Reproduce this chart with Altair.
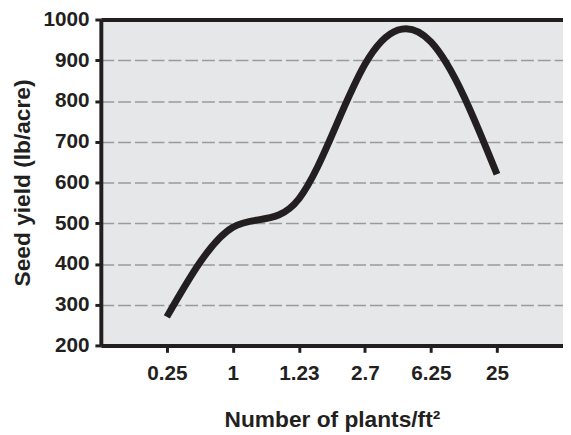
import altair as alt
import pandas as pd

x_labels = ["0.25", "1", "1.23", "2.7", "6.25", "25"]
yields = [270, 490, 560, 890, 945, 620]
y_ticks = [200, 300, 400, 500, 600, 700, 800, 900, 1000]

df = pd.DataFrame({"plants": x_labels, "yield": yields})

FONT = "Liberation Sans"

x_scale = alt.Scale(domain=x_labels, padding=1)
y_scale = alt.Scale(domain=[200, 1000], nice=False, zero=False)

line = alt.Chart(df).mark_line(
    color="#231f20", strokeWidth=7, interpolate="natural", strokeCap="butt"
).encode(
    x=alt.X("plants:O", scale=x_scale, sort=x_labels,
            axis=alt.Axis(title="Number of plants/ft²", labelAngle=0,
                          domainColor="#231f20", domainWidth=4,
                          tickColor="#231f20", tickWidth=3, tickSize=7,
                          labelPadding=11, titlePadding=25,
                          labelFontSize=21, titleFontSize=23,
                          labelFont=FONT, titleFont=FONT,
                          labelFontWeight="bold", titleFontWeight="bold",
                          labelColor="#231f20", titleColor="#231f20",
                          grid=False)),
    y=alt.Y("yield:Q", scale=y_scale,
            axis=alt.Axis(title="Seed yield (lb/acre)", values=y_ticks, format="d",
                          domainColor="#231f20", domainWidth=4,
                          tickColor="#231f20", tickWidth=3, tickSize=6,
                          labelPadding=6, titlePadding=8,
                          labelFontSize=21, titleFontSize=23,
                          labelFont=FONT, titleFont=FONT,
                          labelFontWeight="bold", titleFontWeight="bold",
                          labelColor="#231f20", titleColor="#231f20",
                          grid=True, gridColor="#9a9a9a", gridWidth=1.6,
                          gridDash=[13, 4])),
)

top = alt.Chart(df).mark_point(opacity=0).encode(
    x=alt.X("plants:O", scale=x_scale, sort=x_labels,
            axis=alt.Axis(orient="top", title=None, labels=False, ticks=False,
                          domainColor="#231f20", domainWidth=4, grid=False)),
    y=alt.Y("yield:Q", scale=y_scale),
)

chart = alt.layer(line, top).resolve_axis(x="independent").properties(
    width=468, height=330,
    autosize=alt.AutoSizeParams(type="none"),
    padding={"left": 94, "top": 9, "right": 0, "bottom": 85},
).configure_view(
    fill="#e6e7e8", stroke="#c8c8c8", strokeWidth=1
)

chart.save("out.html", embed_options={"renderer": "svg", "actions": False})
